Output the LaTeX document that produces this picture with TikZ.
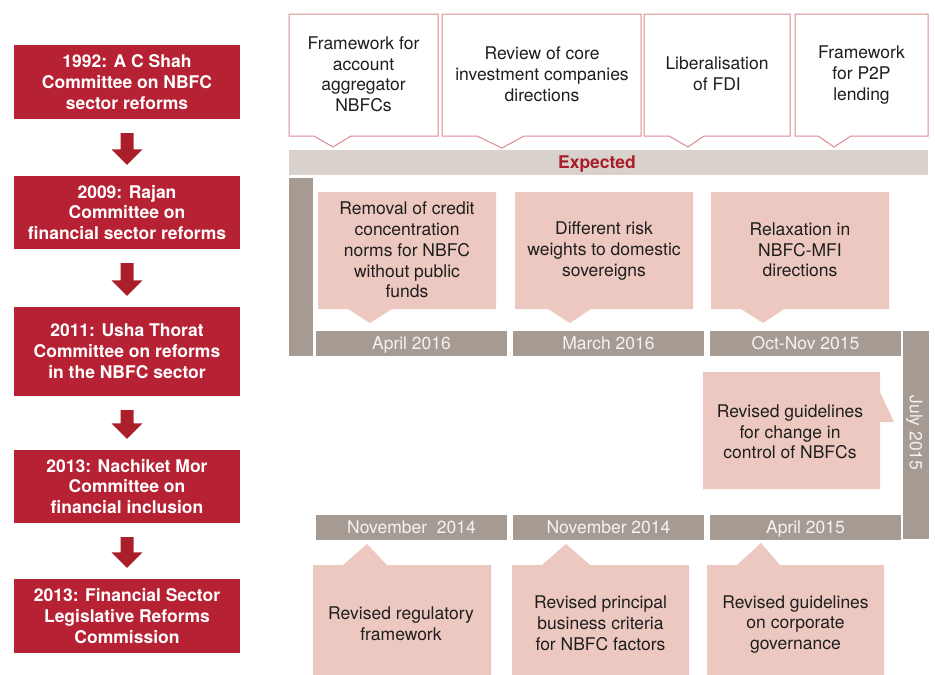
\documentclass[tikz,border=0pt]{standalone}
\usepackage{fontspec}
\setmainfont{TeX Gyre Heros}
\usetikzlibrary{calc}
\definecolor{boxred}{RGB}{183,33,52}
\definecolor{arrowred}{RGB}{170,31,42}
\definecolor{outlinepink}{RGB}{222,138,148}
\definecolor{expbar}{RGB}{217,209,203}
\definecolor{exptext}{RGB}{168,30,45}
\definecolor{graybar}{RGB}{166,155,146}
\definecolor{pinkbox}{RGB}{236,200,192}
\definecolor{datetext}{RGB}{246,242,240}
\definecolor{bodytext}{RGB}{30,30,30}
\newcommand{\capstrut}{\rule[-2.4pt]{0pt}{17.4pt}}
\newcommand{\fatarrow}[2]{%
  \fill[arrowred] let \p1=(#1.south), \p2=(#2.north) in
  (\x1-6.5pt,\y1-14pt) -- (\x1+6.5pt,\y1-14pt) -- (\x1+6.5pt,\y2+26.5pt) --
  (\x1+15.5pt,\y2+26.5pt) -- (\x1,\y2+11pt) -- (\x1-15.5pt,\y2+26.5pt) --
  (\x1-6.5pt,\y2+26.5pt) -- cycle;}
\begin{document}
\begin{tikzpicture}[x=1pt,y=-1pt,
  every node/.style={font=\fontsize{17.5}{20.8}\selectfont, align=center, inner sep=0pt},
  txt/.style={execute at begin node=\capstrut, execute at end node=\capstrut},
  leftbox/.style={fill=boxred, text=white, font=\fontsize{17.5}{20.8}\selectfont\bfseries,
    minimum width=226pt},
  topline/.style={draw=outlinepink, line width=1pt, fill=white, line join=miter},
  bodyt/.style={txt, text=bodytext, yshift=-1pt},
  pinkfill/.style={fill=pinkbox},
  graybarstyle/.style={fill=graybar},
  datelabel/.style={txt, text=datetext},
]
\useasboundingbox (0,0) rectangle (935,675);

% ---- left column ----
\node[leftbox, minimum height=74pt] (b1) at (127,82) {1992: A C Shah\\Committee on NBFC\\sector reforms};
\node[leftbox, minimum height=73pt] (b2) at (127,212.5) {2009: Rajan\\Committee on\\financial sector reforms};
\node[leftbox, minimum height=89pt] (b3) at (127,351.5) {2011: Usha Thorat\\Committee on reforms\\in the NBFC sector};
\node[leftbox, minimum height=73pt] (b4) at (127,486.5) {2013: Nachiket Mor\\Committee on\\financial inclusion};
\node[leftbox, minimum height=74pt] (b5) at (127,616) {2013: Financial Sector\\Legislative Reforms\\Commission};
\fatarrow{b1}{b2}
\fatarrow{b2}{b3}
\fatarrow{b3}{b4}
\fatarrow{b4}{b5}

% ---- expected (top) callouts ----
\draw[topline] (289,14) -- (438,14) -- (438,136) -- (351,136) -- (333,147) -- (314,136) -- (289,136) -- cycle;
\draw[topline] (442,14) -- (641,14) -- (641,136) -- (524,136) -- (502,148) -- (477,136) -- (442,136) -- cycle;
\draw[topline] (644,14) -- (790,14) -- (790,136) -- (704,136) -- (688,147) -- (669,136) -- (644,136) -- cycle;
\draw[topline] (795,14) -- (928,14) -- (928,136) -- (851,136) -- (834,147) -- (818,136) -- (795,136) -- cycle;
\node[bodyt] (t1) at (363.5,74.2) {Framework for\\account\\aggregator\\NBFCs};
\node[bodyt] (t2) at (542,74.2) {Review of core\\investment companies\\directions};
\node[bodyt] (t3) at (717,74.2) {Liberalisation\\of FDI};
\node[bodyt] (t4) at (861.5,74.2) {Framework\\for P2P\\lending};

\fill[expbar] (289,150) rectangle (928,174.5);
\node[txt, text=exptext, font=\fontsize{17.5}{20.8}\selectfont\bfseries] (exp) at (597,163) {Expected};

% ---- timeline bars ----
\fill[graybarstyle] (289,178) rectangle (313,356);
\fill[graybarstyle] (903,331) rectangle (929,538.5);
\node[datelabel, rotate=-90] (jul) at (915.5,433) {July 2015};

\fill[graybarstyle] (316,331) rectangle (507,356);
\fill[graybarstyle] (513,331) rectangle (704,356);
\fill[graybarstyle] (710,331) rectangle (901,356);
\node[datelabel] (d1) at (411.5,343.5) {April 2016};
\node[datelabel] (d2) at (608.5,343.5) {March 2016};
\node[datelabel] (d3) at (805.5,343.5) {Oct-Nov 2015};

\fill[graybarstyle] (316,515) rectangle (507,540);
\fill[graybarstyle] (513,515) rectangle (704,540);
\fill[graybarstyle] (710,515) rectangle (901,540);
\node[datelabel] (e1) at (411.5,527.5) {November\ \ 2014};
\node[datelabel] (e2) at (608.5,527.5) {November 2014};
\node[datelabel] (e3) at (805.5,527.5) {April 2015};

% ---- row 1 pink callouts ----
\fill[pinkfill] (318,192) -- (496,192) -- (496,309) -- (392,309) -- (370,323) -- (348,309) -- (318,309) -- cycle;
\fill[pinkfill] (515,192) -- (693,192) -- (693,309) -- (591,309) -- (570,323) -- (548,309) -- (515,309) -- cycle;
\fill[pinkfill] (711,192) -- (889,192) -- (889,309) -- (784,309) -- (763,323) -- (741,309) -- (711,309) -- cycle;
\node[bodyt] (p1) at (407,250) {Removal of credit\\concentration\\norms for NBFC\\without public\\funds};
\node[bodyt] (p2) at (604,250) {Different risk\\weights to domestic\\sovereigns};
\node[bodyt] (p3) at (800,250) {Relaxation in\\NBFC-MFI\\directions};

% ---- right callout ----
\fill[pinkfill] (703,372) -- (880,372) -- (880,392) -- (894,422) -- (880,422) -- (880,489) -- (703,489) -- cycle;
\node[bodyt] (r1) at (790,432) {Revised guidelines\\for change in\\control of NBFCs};

% ---- bottom pink callouts ----
\fill[pinkfill] (313,675) -- (313,565) -- (343,565) -- (367,544) -- (387,565) -- (491,565) -- (491,675) -- cycle;
\fill[pinkfill] (512,675) -- (512,565) -- (542,565) -- (566,544) -- (590,565) -- (689,565) -- (689,675) -- cycle;
\fill[pinkfill] (707,675) -- (707,565) -- (737,565) -- (761,543) -- (780,565) -- (884,565) -- (884,675) -- cycle;
\node[bodyt] (q1) at (401,623.5) {Revised regulatory\\framework};
\node[bodyt] (q2) at (600.5,623.5) {Revised principal\\business criteria\\for NBFC factors};
\node[bodyt] (q3) at (795.5,623.5) {Revised guidelines\\on corporate\\governance};
\end{tikzpicture}
\end{document}
